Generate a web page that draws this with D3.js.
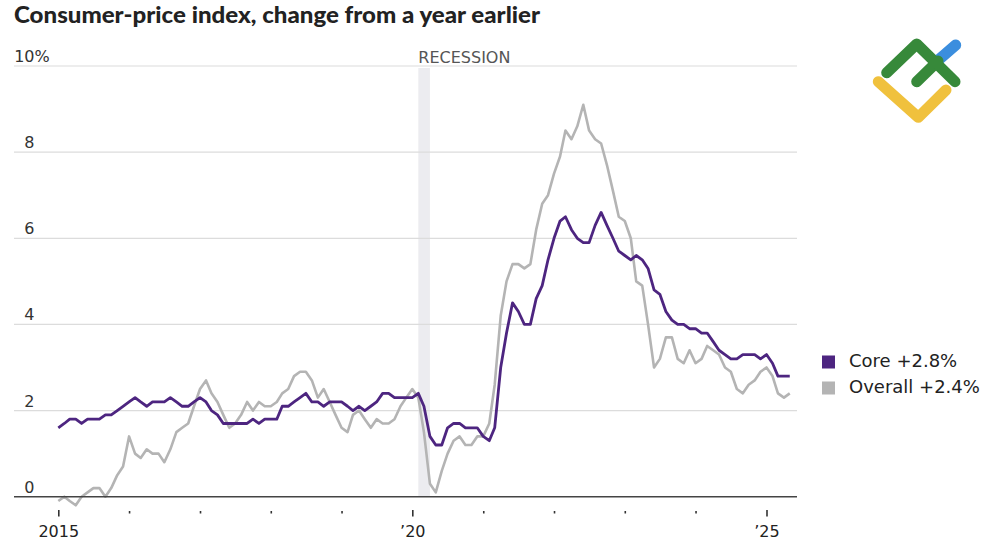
<!DOCTYPE html>
<html>
<head>
<meta charset="utf-8">
<script src="https://cdn.jsdelivr.net/npm/d3@7"></script>
<style>
  html, body { margin: 0; padding: 0; background: #fff; }
  svg { display: block; }
</style>
</head>
<body>
<svg id="chart" width="1000" height="545"></svg>
<script>
(function (d3) {
    "use strict";

    // monthly year-over-year % change, Jan 2015 .. May 2025
    var startMonth = "2015-01";
    var core = [
        1.6, 1.7, 1.8, 1.8, 1.7, 1.8, 1.8, 1.8, 1.9, 1.9, 2.0, 2.1,
        2.2, 2.3, 2.2, 2.1, 2.2, 2.2, 2.2, 2.3, 2.2, 2.1, 2.1, 2.2,
        2.3, 2.2, 2.0, 1.9, 1.7, 1.7, 1.7, 1.7, 1.7, 1.8, 1.7, 1.8,
        1.8, 1.8, 2.1, 2.1, 2.2, 2.3, 2.4, 2.2, 2.2, 2.1, 2.2, 2.2,
        2.2, 2.1, 2.0, 2.1, 2.0, 2.1, 2.2, 2.4, 2.4, 2.3, 2.3, 2.3,
        2.3, 2.4, 2.1, 1.4, 1.2, 1.2, 1.6, 1.7, 1.7, 1.6, 1.6, 1.6,
        1.4, 1.3, 1.6, 3.0, 3.8, 4.5, 4.3, 4.0, 4.0, 4.6, 4.9, 5.5,
        6.0, 6.4, 6.5, 6.2, 6.0, 5.9, 5.9, 6.3, 6.6, 6.3, 6.0, 5.7,
        5.6, 5.5, 5.6, 5.5, 5.3, 4.8, 4.7, 4.3, 4.1, 4.0, 4.0, 3.9,
        3.9, 3.8, 3.8, 3.6, 3.4, 3.3, 3.2, 3.2, 3.3, 3.3, 3.3, 3.2,
        3.3, 3.1, 2.8, 2.8, 2.8
    ];
    var overall = [
        -0.1, 0.0, -0.1, -0.2, 0.0, 0.1, 0.2, 0.2, 0.0, 0.2, 0.5, 0.7,
        1.4, 1.0, 0.9, 1.1, 1.0, 1.0, 0.8, 1.1, 1.5, 1.6, 1.7, 2.1,
        2.5, 2.7, 2.4, 2.2, 1.9, 1.6, 1.7, 1.9, 2.2, 2.0, 2.2, 2.1,
        2.1, 2.2, 2.4, 2.5, 2.8, 2.9, 2.9, 2.7, 2.3, 2.5, 2.2, 1.9,
        1.6, 1.5, 1.9, 2.0, 1.8, 1.6, 1.8, 1.7, 1.7, 1.8, 2.1, 2.3,
        2.5, 2.3, 1.5, 0.3, 0.1, 0.6, 1.0, 1.3, 1.4, 1.2, 1.2, 1.4,
        1.4, 1.7, 2.6, 4.2, 5.0, 5.4, 5.4, 5.3, 5.4, 6.2, 6.8, 7.0,
        7.5, 7.9, 8.5, 8.3, 8.6, 9.1, 8.5, 8.3, 8.2, 7.7, 7.1, 6.5,
        6.4, 6.0, 5.0, 4.9, 4.0, 3.0, 3.2, 3.7, 3.7, 3.2, 3.1, 3.4,
        3.1, 3.2, 3.5, 3.4, 3.3, 3.0, 2.9, 2.5, 2.4, 2.6, 2.7, 2.9,
        3.0, 2.8, 2.4, 2.3, 2.4
    ];
    var yTicks = [0, 2, 4, 6, 8, 10];
    var xYears = [2015, 2016, 2017, 2018, 2019, 2020, 2021, 2022, 2023, 2024, 2025];
    var xLabels = {2015: "2015", 2020: "\u201920", 2025: "\u201925"};
    var recession = ["2020-02", "2020-04"];
    var legendItems = [
        {name: "Core +2.8%", color: "#4d2580"},
        {name: "Overall +2.4%", color: "#b4b4b4"}
    ];

    var parseMonth = d3.timeParse("%Y-%m");
    var start = parseMonth(startMonth);
    var monthAt = function (i) { return d3.timeMonth.offset(start, i); };

    var svg = d3.select("#chart");
    var font = "'DejaVu Sans', Verdana, sans-serif";

    var x = d3.scaleTime()
        .domain([new Date(2015, 0, 1), new Date(2025, 0, 1)])
        .range([58.3, 766.5]);
    var y = d3.scaleLinear().domain([0, 10]).range([496.7, 66]);
    var left = 14, right = 797;

    // title
    svg.append("text")
        .attr("x", 14).attr("y", 22.7)
        .attr("font-family", "Lato, 'Open Sans', sans-serif")
        .attr("font-weight", 900)
        .attr("font-size", 22)
        .attr("fill", "#222")
        .attr("textLength", 526)
        .attr("lengthAdjust", "spacingAndGlyphs")
        .text("Consumer-price index, change from a year earlier");

    // recession band
    svg.append("rect")
        .attr("x", x(parseMonth(recession[0])))
        .attr("y", y(10) + 2)
        .attr("width", x(parseMonth(recession[1])) - x(parseMonth(recession[0])))
        .attr("height", y(0) - y(10) - 2)
        .attr("fill", "#ececf0");

    svg.append("text")
        .attr("x", x(parseMonth(recession[0])))
        .attr("y", 62.7)
        .attr("font-family", font).attr("font-size", 16)
        .attr("fill", "#555")
        .text("RECESSION");

    // gridlines + y labels
    var grid = svg.append("g");
    grid.selectAll("line").data(yTicks.filter(function (d) { return d > 0; }))
        .enter().append("line")
        .attr("x1", left).attr("x2", right)
        .attr("y1", function (d) { return y(d); })
        .attr("y2", function (d) { return y(d); })
        .attr("stroke", "#dcdcdc").attr("stroke-width", 1.2);

    grid.selectAll("text.ylab").data(yTicks)
        .enter().append("text")
        .attr("class", "ylab")
        .attr("x", 34.5)
        .attr("y", function (d) { return y(d) - 4; })
        .attr("text-anchor", "end")
        .attr("font-family", font).attr("font-size", 16)
        .attr("fill", "#333")
        .text(function (d) { return d; });
    grid.append("text")
        .attr("x", 34.5).attr("y", y(10) - 4)
        .attr("font-family", font).attr("font-size", 16)
        .attr("fill", "#333")
        .text("%");

    // lines
    var line = d3.line()
        .x(function (d, i) { return x(monthAt(i)); })
        .y(function (d) { return y(d); });

    svg.append("path").datum(overall)
        .attr("d", line)
        .attr("fill", "none")
        .attr("stroke", legendItems[1].color)
        .attr("stroke-width", 2.6)
        .attr("stroke-linejoin", "round");
    svg.append("path").datum(core)
        .attr("d", line)
        .attr("fill", "none")
        .attr("stroke", legendItems[0].color)
        .attr("stroke-width", 2.8)
        .attr("stroke-linejoin", "round");

    // baseline
    svg.append("line")
        .attr("x1", left).attr("x2", right)
        .attr("y1", y(0)).attr("y2", y(0))
        .attr("stroke", "#444").attr("stroke-width", 1.5);

    // x axis
    var xAxis = d3.axisBottom(x)
        .tickValues(xYears.map(function (yr) { return new Date(yr, 0, 1); }))
        .tickSize(6)
        .tickPadding(10)
        .tickFormat(function (d) { return xLabels[d.getFullYear()] || ""; });

    var gx = svg.append("g")
        .attr("transform", "translate(0,510)")
        .call(xAxis);
    gx.select(".domain").remove();
    gx.selectAll(".tick line")
        .attr("stroke", "#333")
        .attr("stroke-width", 1.6)
        .attr("y1", function (d) { return xLabels[d.getFullYear()] ? 0 : 1; })
        .attr("y2", function (d) { return xLabels[d.getFullYear()] ? 6.5 : 3.5; });
    gx.selectAll(".tick text")
        .attr("y", 26.7).attr("dy", null)
        .attr("font-family", font).attr("font-size", 16)
        .attr("fill", "#222");

    // legend
    var legend = svg.append("g").attr("transform", "translate(822,354)");
    var li = legend.selectAll("g").data(legendItems).enter().append("g")
        .attr("transform", function (d, i) { return "translate(0," + i * 26 + ")"; });
    li.append("rect")
        .attr("x", 0).attr("y", 1.5)
        .attr("width", 13).attr("height", 13)
        .attr("fill", function (d) { return d.color; });
    li.append("text")
        .attr("x", 27).attr("y", 12.5)
        .attr("font-family", font).attr("font-size", 18)
        .attr("fill", "#222")
        .text(function (d) { return d.name; });

    // logo
    var logo = svg.append("g")
        .attr("fill", "none")
        .attr("stroke-linecap", "round")
        .attr("stroke-linejoin", "round")
        .attr("stroke-width", 11);
    logo.append("path").attr("d", "M939,59.5 L955.7,45").attr("stroke", "#3b8ede");
    logo.append("path").attr("d", "M878.3,81.7 L918.3,117.3 L946,90").attr("stroke", "#f0c13d");
    logo.append("path").attr("d", "M916.7,81.7 L938,61").attr("stroke", "#37893a");
    logo.append("path").attr("d", "M886.7,72.7 L916.7,44 L955,81.7").attr("stroke", "#37893a");

}(window.d3));
</script>
</body>
</html>
